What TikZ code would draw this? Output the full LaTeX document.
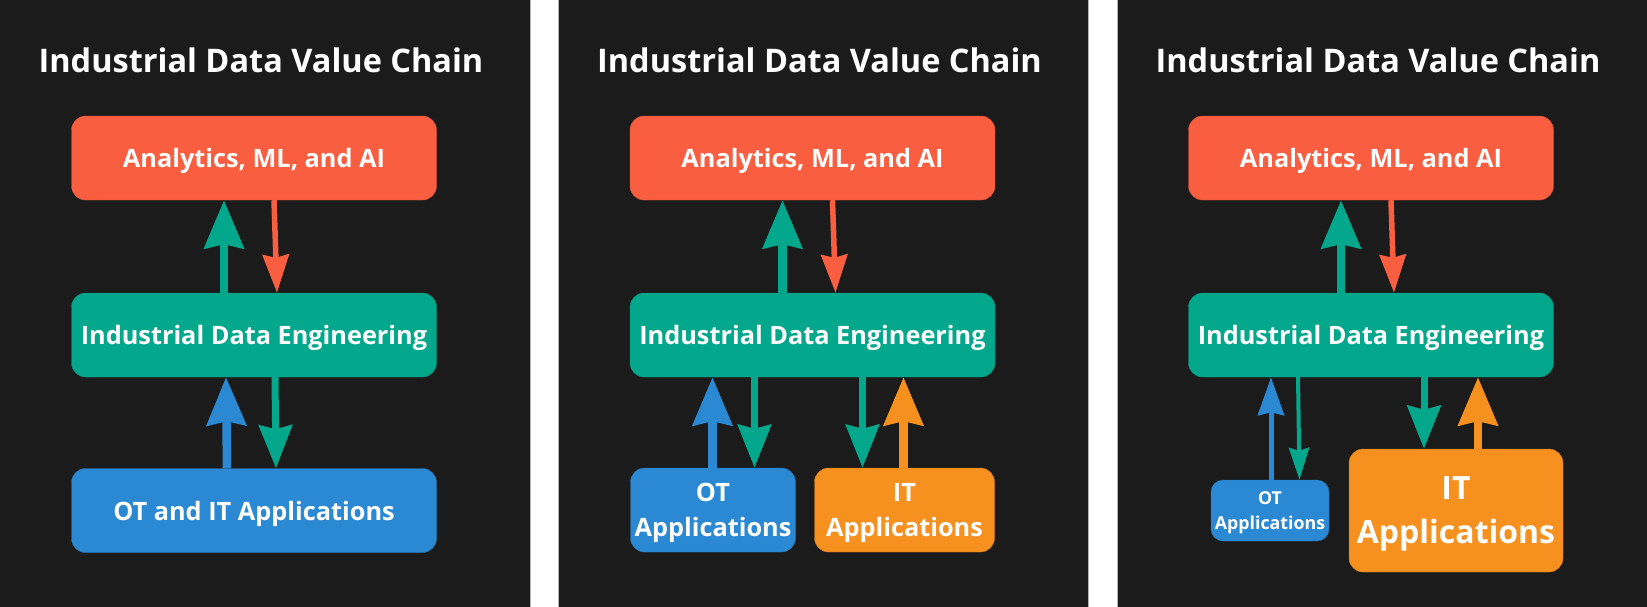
\documentclass[tikz,border=0pt]{standalone}
\usepackage{fontspec}
\setmainfont{Open Sans}
\usetikzlibrary{arrows.meta, positioning}
\definecolor{panelbg}{HTML}{1B1B1B}
\definecolor{mlred}{HTML}{F95E40}
\definecolor{dataGreen}{HTML}{03A88C}
\definecolor{otblue}{HTML}{2B89D4}
\definecolor{itorange}{HTML}{F6901F}

\begin{document}
\begin{tikzpicture}[x=1pt, y=-1pt,
  panel/.style={draw=gray!60, line width=1pt, fill=panelbg},
  title/.style={text=white, font=\fontsize{32.5}{39}\selectfont\bfseries},
  layer/.style={rectangle, rounded corners=14pt, draw=#1!85!black, fill=#1, text=white, minimum width=365pt, minimum height=84pt, inner sep=0pt, text depth=0pt, align=center, font=\fontsize{25.3}{35}\selectfont\bfseries},
  bigarrow/.style={line width=8.5pt, -{Stealth[length=48pt, width=39pt, inset=4pt]}},
  midarrow/.style={line width=7pt, -{Stealth[length=43pt, width=33pt, inset=4pt]}},
  smallarrow/.style={line width=5.5pt, -{Stealth[length=38pt, width=26pt, inset=3pt]}},
  thinarrow/.style={line width=4pt, -{Stealth[length=32pt, width=20pt, inset=3pt]}}
]
  \useasboundingbox (0, 0) rectangle (1647, 606);
  \fill[white] (0, 0) rectangle (1647, 606);

  % Panels
  \draw[panel] (-1, -1) rectangle (530, 607);
  \draw[panel] (558.5, -1) rectangle (1088.5, 607);
  \draw[panel] (1117, -1) rectangle (1648, 607);

  % Titles
  \node[title] (title1) at (261, 60) {Industrial Data Value Chain};
  \node[title] (title2) at (819.5, 60) {Industrial Data Value Chain};
  \node[title] (title3) at (1378, 60) {Industrial Data Value Chain};

  % Panel 1: one application layer
  \node[layer=mlred] (ana1) at (254, 158) {Analytics, ML, and AI};
  \node[layer=dataGreen] (ide1) at (254, 335) {Industrial Data Engineering};
  \node[layer=otblue] (apps1) at (254, 510.5) {OT and IT Applications};

  \draw[bigarrow, dataGreen] ([xshift=-30]ide1.north) -- ([xshift=-30]ana1.south);
  \draw[smallarrow, mlred] ([xshift=20]ana1.south) -- ([xshift=23]ide1.north);
  \draw[bigarrow, otblue] ([xshift=-27]apps1.north) -- ([xshift=-28]ide1.south);
  \draw[midarrow, dataGreen] ([xshift=21]ide1.south) -- ([xshift=22]apps1.north);

  % Panel 2: OT and IT split
  \node[layer=mlred] (ana2) at (812.5, 158) {Analytics, ML, and AI};
  \node[layer=dataGreen] (ide2) at (812.5, 335) {Industrial Data Engineering};
  \node[layer=otblue, minimum width=165pt] (ot2) at (713, 510) {OT\\Applications};
  \node[layer=itorange, minimum width=180pt] (it2) at (904.5, 510) {IT\\Applications};

  \draw[bigarrow, dataGreen] ([xshift=-30]ide2.north) -- ([xshift=-30]ana2.south);
  \draw[smallarrow, mlred] ([xshift=20]ana2.south) -- ([xshift=23]ide2.north);
  \draw[bigarrow, otblue] ([xshift=-0.5]ot2.north) -- ([xshift=-100]ide2.south);
  \draw[midarrow, dataGreen] ([xshift=-58]ide2.south) -- ([xshift=41.5]ot2.north);
  \draw[midarrow, dataGreen] ([xshift=50]ide2.south) -- ([xshift=-42]it2.north);
  \draw[bigarrow, itorange] ([xshift=-1]it2.north) -- ([xshift=91]ide2.south);

  % Panel 3: IT grows, OT shrinks
  \node[layer=mlred] (ana3) at (1371, 158) {Analytics, ML, and AI};
  \node[layer=dataGreen] (ide3) at (1371, 335) {Industrial Data Engineering};
  \node[layer=otblue, minimum width=118pt, minimum height=61pt, rounded corners=12pt, font=\fontsize{17.8}{25}\selectfont\bfseries] (ot3) at (1270, 510.5) {OT\\Applications};
  \node[layer=itorange, minimum width=214pt, minimum height=123pt, font=\fontsize{32}{44}\selectfont\bfseries] (it3) at (1456, 510.5) {IT\\Applications};

  \draw[bigarrow, dataGreen] ([xshift=-30]ide3.north) -- ([xshift=-30]ana3.south);
  \draw[smallarrow, mlred] ([xshift=20]ana3.south) -- ([xshift=23]ide3.north);
  \draw[line width=5pt, otblue, -{Stealth[length=38pt, width=26pt, inset=3pt]}] ([xshift=1]ot3.north) -- ([xshift=-100]ide3.south);
  \draw[thinarrow, dataGreen] ([xshift=-73]ide3.south) -- ([xshift=29.5]ot3.north);
  \draw[midarrow, dataGreen] ([xshift=53]ide3.south) -- ([xshift=-32]it3.north);
  \draw[bigarrow, itorange] ([xshift=22]it3.north) -- ([xshift=107]ide3.south);
\end{tikzpicture}
\end{document}
